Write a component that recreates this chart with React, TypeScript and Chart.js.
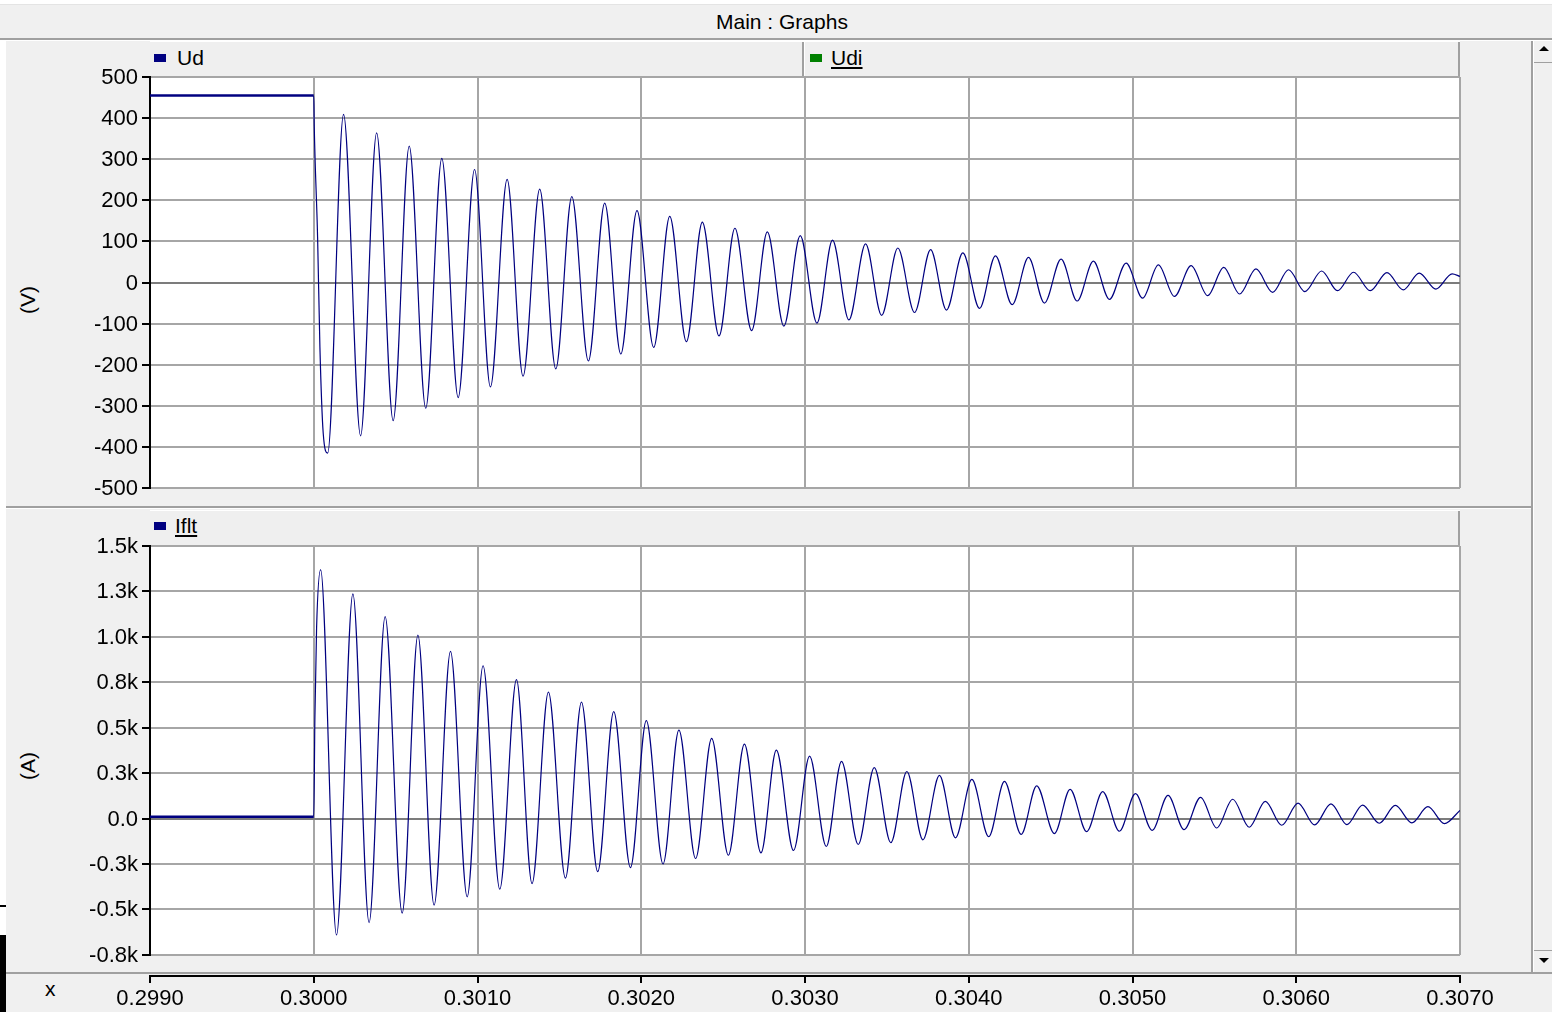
import React, { useEffect, useRef } from "react";
import { Chart, registerables } from "chart.js";

Chart.register(...registerables);

// ---------- data ----------
const X_MIN = 0.299;
const X_MAX = 0.307;
const X_STEP = 0.001;
const FAULT_TIME = 0.3;

const udRange = [-500, 500];
const udStep = 100;
const ifltRange = [-750, 1500];
const ifltStep = 250;

// Ud (V): readings of the trace (pre-fault level, fall, then successive troughs / peaks)
const udTimes = [
  0.299, 0.3, 0.300003, 0.3000235, 0.3000375, 0.3000577,
  0.300085, 0.300182, 0.300286, 0.300384, 0.300485, 0.300583, 0.300684, 0.300782,
  0.300882, 0.300982, 0.301079, 0.301181, 0.301278, 0.30138, 0.301478, 0.301576,
  0.301677, 0.301777, 0.301875, 0.301974, 0.302076, 0.302174, 0.302276, 0.302373,
  0.302475, 0.302572, 0.302674, 0.30277, 0.302871, 0.302971, 0.303073, 0.303168,
  0.303268, 0.30337, 0.303468, 0.303567, 0.303669, 0.303767, 0.303864, 0.303964,
  0.304066, 0.304163, 0.304265, 0.304365, 0.304462, 0.304564, 0.304662, 0.304761,
  0.304859, 0.304961, 0.305062, 0.305158, 0.305256, 0.305358, 0.305459, 0.305557,
  0.305654, 0.305754, 0.305856, 0.305953, 0.306053, 0.306155, 0.306252, 0.30635,
  0.306452, 0.306554, 0.306653, 0.306751, 0.306853, 0.306952, 0.307,
];
const udValues = [
  455, 455, 380, 110, -156, -366,
  -415, 409, -373, 364, -336, 332, -306, 302,
  -280, 275, -254, 251, -228, 227, -210, 209,
  -191, 193, -174, 175, -158, 161, -144, 147,
  -130, 132, -117, 123, -106, 114, -99, 103,
  -91, 94, -80, 84, -73, 80, -67, 72,
  -63, 65, -54, 61, -50, 57, -45, 52,
  -41, 47, -38, 43, -34, 41, -32, 37,
  -28, 33, -24, 31, -22, 28, -20, 25,
  -20, 24, -18, 23, -16, 21, 15,
];

// Iflt (A)
const ifltTimes = [
  0.299, 0.3, 0.300007, 0.3000174,
  0.300042, 0.300139, 0.300239, 0.300338, 0.300436, 0.30054, 0.300636, 0.300735,
  0.300835, 0.300937, 0.301034, 0.301136, 0.301238, 0.301333, 0.301433, 0.301537,
  0.301635, 0.301734, 0.301832, 0.301934, 0.302031, 0.302133, 0.30223, 0.302332,
  0.30243, 0.302532, 0.30263, 0.302731, 0.302825, 0.30293, 0.303028, 0.30313,
  0.303223, 0.303325, 0.303423, 0.303524, 0.303622, 0.30372, 0.303821, 0.303919,
  0.304019, 0.304122, 0.304218, 0.30432, 0.304415, 0.304523, 0.304619, 0.30472,
  0.304818, 0.30492, 0.305018, 0.30512, 0.305217, 0.305315, 0.305416, 0.305514,
  0.305612, 0.305713, 0.305811, 0.305911, 0.306011, 0.306112, 0.306212, 0.30631,
  0.306405, 0.306507, 0.306605, 0.306706, 0.306804, 0.306905, 0.307,
];
const ifltValues = [
  10, 10, 556, 1052,
  1370, -641, 1236, -573, 1111, -521, 1010, -477,
  920, -431, 841, -389, 764, -358, 696, -328,
  641, -292, 588, -270, 539, -250, 487, -220,
  441, -202, 409, -189, 376, -176, 343, -154,
  315, -143, 280, -133, 259, -117, 237, -106,
  215, -100, 204, -87, 180, -83, 161, -72,
  148, -70, 137, -65, 128, -61, 117, -52,
  106, -48, 94, -37, 85, -35, 81, -33,
  74, -26, 72, -24, 65, -28, 45,
];

// ---------- styling ----------
const FONT = "'Liberation Sans', Arial, Helvetica, sans-serif";
const BG = "#f0f0f0";
const LINE = "#a0a0a0";
const GRID = "#a6a6a6";
const ZERO = "#7c7c7c";
const TRACE = "#000080";

const CANVAS_W = 1531;
const PLOT_LEFT = 150;
const PLOT_RIGHT = 1460;

const plotBg = {
  id: "plotBg",
  beforeDraw(chart: any) {
    const { ctx, chartArea: a } = chart;
    ctx.save();
    ctx.fillStyle = "#ffffff";
    ctx.fillRect(a.left, a.top, a.right - a.left, a.bottom - a.top);
    ctx.restore();
  },
};

function toPoints(ts: number[], vs: number[]) {
  return ts.map((t, i) => ({ x: t, y: vs[i] }));
}

function panelConfig(
  label: string,
  ts: number[],
  vs: number[],
  range: number[],
  step: number,
  fmt: (v: number) => string,
  padTop: number,
  padBottom: number
) {
  return {
    type: "line",
    data: {
      datasets: [
        {
          label,
          data: toPoints(ts, vs),
          borderColor: TRACE,
          backgroundColor: TRACE,
          borderWidth: 1.2,
          pointRadius: 0,
          cubicInterpolationMode: "monotone",
          fill: false,
          segment: {
            borderWidth: (c: any) => (c.p1.parsed.x <= FAULT_TIME ? 2.5 : 1.2),
          },
        },
      ],
    },
    options: {
      responsive: false,
      animation: false,
      events: [],
      layout: { padding: { left: 0, right: CANVAS_W - PLOT_RIGHT, top: padTop, bottom: padBottom } },
      plugins: { legend: { display: false }, tooltip: { enabled: false }, title: { display: false } },
      scales: {
        x: {
          type: "linear",
          min: X_MIN,
          max: X_MAX,
          ticks: { display: false, stepSize: X_STEP },
          grid: { color: GRID, lineWidth: 2, drawTicks: false },
          border: { display: false },
          afterFit: (s: any) => {
            s.height = 0;
          },
        },
        y: {
          type: "linear",
          min: range[0],
          max: range[1],
          ticks: {
            stepSize: step,
            color: "#000",
            font: { family: FONT, size: 22 },
            padding: 4,
            labelOffset: 1,
            callback: (v: any) => fmt(Number(v)),
          },
          grid: {
            color: (c: any) => (c.tick && c.tick.value === 0 ? ZERO : GRID),
            lineWidth: 2,
            tickColor: "#000",
            tickLength: 8,
          },
          border: { color: "#000", width: 2 },
          afterFit: (s: any) => {
            s.width = PLOT_LEFT;
          },
        },
      },
    },
    plugins: [plotBg],
  };
}

function axisConfig() {
  return {
    type: "line",
    data: { datasets: [] },
    options: {
      responsive: false,
      animation: false,
      events: [],
      layout: { padding: { left: PLOT_LEFT, right: 1552 - PLOT_RIGHT, top: 3, bottom: 0 } },
      plugins: { legend: { display: false }, tooltip: { enabled: false } },
      scales: {
        x: {
          type: "linear",
          position: "bottom",
          min: X_MIN,
          max: X_MAX,
          ticks: {
            stepSize: X_STEP,
            autoSkip: false,
            maxRotation: 0,
            color: "#000",
            padding: 3,
            font: { family: FONT, size: 22 },
            callback: (v: any) => Number(v).toFixed(4),
          },
          grid: { drawOnChartArea: false, drawTicks: true, tickLength: 7, tickColor: "#000", lineWidth: 2 },
          border: { color: "#000", width: 2 },
          afterFit: (s: any) => {
            s.height = 36;
          },
        },
        y: { display: false, min: 0, max: 1 },
      },
    },
  };
}

function ChartCanvas({ config, left, top, width, height }: any) {
  const ref = useRef<HTMLCanvasElement | null>(null);
  useEffect(() => {
    if (!ref.current) return;
    const chart = new Chart(ref.current, config);
    return () => chart.destroy();
  }, []);
  return (
    <canvas
      ref={ref}
      width={width}
      height={height}
      style={{ position: "absolute", left, top, width, height, display: "block" }}
    />
  );
}

const txt: React.CSSProperties = {
  position: "absolute",
  fontFamily: FONT,
  fontSize: 21,
  color: "#000",
  whiteSpace: "nowrap",
  lineHeight: "24px",
};

function box(left: number, top: number, width: number, height: number, background: string, extra: any = {}) {
  return <div style={{ position: "absolute", left, top, width, height, background, ...extra }} />;
}

export default function App() {
  const fmtV = (v: number) => String(Math.round(v));
  const fmtA = (v: number) => (v === 0 ? "0.0" : (v / 1000).toFixed(1) + "k");

  return (
    <div
      style={{
        position: "fixed",
        left: 0,
        top: 0,
        width: 1552,
        height: 1012,
        overflow: "hidden",
        background: "#ffffff",
        fontFamily: FONT,
      }}
    >
      {/* title bar */}
      {box(0, 4, 1552, 1, "#e4e4e4")}
      {box(0, 5, 1552, 33, BG)}
      {box(0, 38, 1552, 2, LINE)}
      <div style={{ ...txt, left: 716, top: 10 }}>Main : Graphs</div>

      {/* main frame */}
      {box(6, 41, 1525, 931, BG)}
      {/* scrollbar */}
      {box(1531, 41, 2, 931, LINE)}
      {box(1533, 41, 1, 931, "#ffffff")}
      {box(1534, 41, 18, 931, BG)}
      {box(1534, 62, 18, 1, LINE)}
      {box(1534, 950, 18, 1, LINE)}
      <div
        style={{
          position: "absolute",
          left: 1539,
          top: 46,
          width: 0,
          height: 0,
          borderLeft: "5px solid transparent",
          borderRight: "5px solid transparent",
          borderBottom: "5px solid #000",
        }}
      />
      <div
        style={{
          position: "absolute",
          left: 1539,
          top: 958,
          width: 0,
          height: 0,
          borderLeft: "5px solid transparent",
          borderRight: "5px solid transparent",
          borderTop: "5px solid #000",
        }}
      />

      {/* panel separator */}
      {box(6, 506, 1525, 2, LINE)}
      {box(6, 508, 1525, 1, "#ffffff")}

      {/* bottom frame + x strip */}
      {box(6, 972, 1546, 2, LINE)}
      {box(6, 974, 1546, 38, BG)}

      {/* left edge artifacts */}
      {box(0, 905, 6, 2, "#000")}
      {box(0, 935, 6, 77, "#000")}

      {/* top legend bar */}
      {box(150, 41, 1310, 1, "#ffffff")}
      {box(150, 42, 1310, 35, "#efefef")}
      {box(1458, 42, 2, 35, LINE)}
      {box(802, 42, 2, 35, LINE)}
      {box(804, 42, 1, 35, "#ffffff")}
      {box(154, 54, 12, 8, TRACE)}
      <div style={{ ...txt, left: 177, top: 46 }}>Ud</div>
      {box(810, 54, 12, 8, "#008000")}
      <div style={{ ...txt, left: 831, top: 46, textDecoration: "underline" }}>Udi</div>

      {/* bottom legend bar */}
      {box(150, 510, 1310, 1, "#ffffff")}
      {box(150, 511, 1310, 35, "#efefef")}
      {box(1458, 511, 2, 35, LINE)}
      {box(154, 522, 12, 8, TRACE)}
      <div style={{ ...txt, left: 175, top: 514, textDecoration: "underline" }}>Iflt</div>

      {/* axis titles */}
      <div style={{ ...txt, left: 28, top: 300, transform: "translate(-50%, -50%) rotate(-90deg)" }}>(V)</div>
      <div style={{ ...txt, left: 28, top: 766, transform: "translate(-50%, -50%) rotate(-90deg)" }}>(A)</div>
      <div style={{ ...txt, left: 45, top: 977 }}>x</div>

      <ChartCanvas
        config={panelConfig("Ud", udTimes, udValues, udRange, udStep, fmtV, 37, 19)}
        left={0}
        top={40}
        width={CANVAS_W}
        height={467}
      />
      <ChartCanvas
        config={panelConfig("Iflt", ifltTimes, ifltValues, ifltRange, ifltStep, fmtA, 36, 17)}
        left={0}
        top={510}
        width={CANVAS_W}
        height={462}
      />
      <ChartCanvas config={axisConfig()} left={0} top={972} width={1552} height={40} />
    </div>
  );
}
